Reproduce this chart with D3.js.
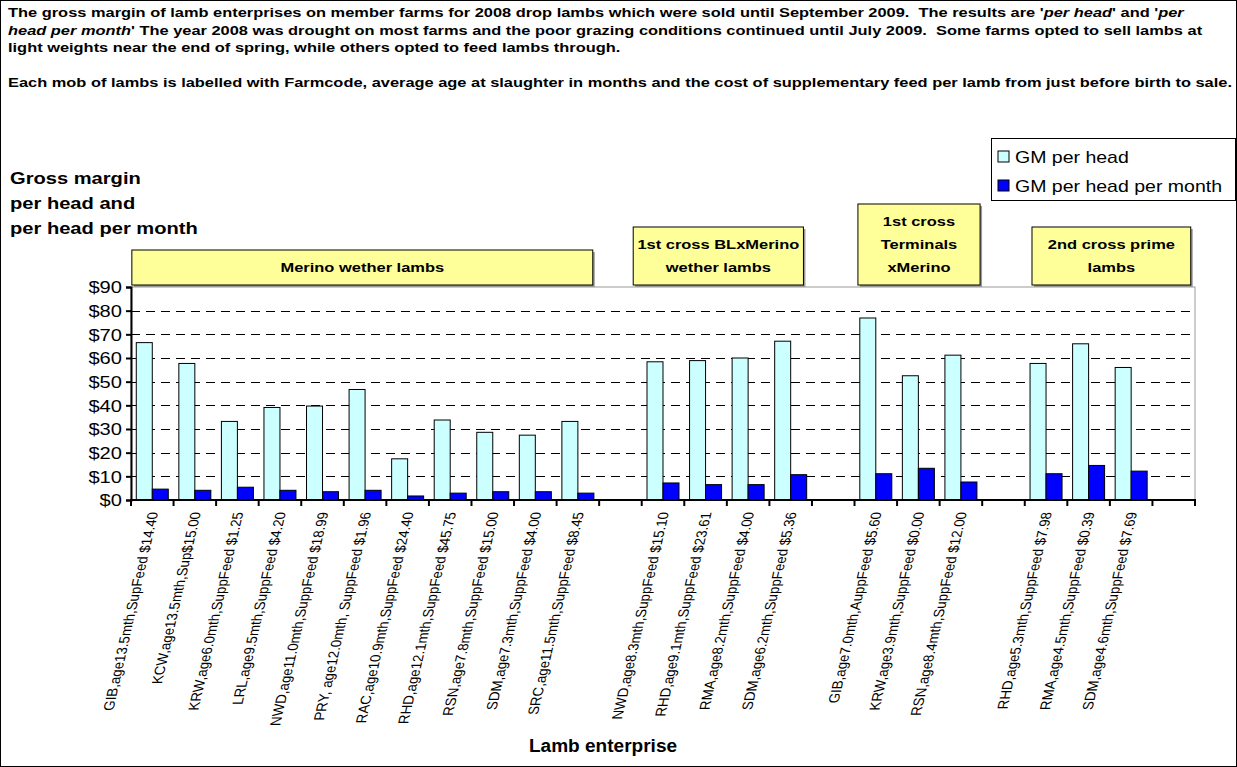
<!DOCTYPE html>
<html>
<head>
<meta charset="utf-8">
<script src="https://cdn.jsdelivr.net/npm/d3@7"></script>
<style>
  body { margin: 0; background: #fff; }
  svg { display: block; font-family: "Liberation Sans", Arial, sans-serif; }
</style>
</head>
<body>
<svg id="chart" width="1237" height="767"></svg>
<script>
// Lamb enterprises (blank entries separate the breed groups)
const categories = [
  "GIB,age13.5mth,SupFeed $14.40",
  "KCW,age13.5mth,Sup$15.00",
  "KRW,age6.0mth,SuppFeed $1.25",
  "LRL,age9.5mth,SuppFeed $4.20",
  "NWD,age11.0mth,SuppFeed $18.99",
  "PRY, age12.0mth, SuppFeed $1.96",
  "RAC,age10.9mth,SuppFeed $24.40",
  "RHD,age12.1mth,SuppFeed $45.75",
  "RSN,age7.8mth,SuppFeed $15.00",
  "SDM,age7.3mth,SuppFeed $4.00",
  "SRC,age11.5mth,SuppFeed $8.45",
  "",
  "NWD,age8.3mth,SuppFeed $15.10",
  "RHD,age9.1mth,SuppFeed $23.61",
  "RMA,age8.2mth,SuppFeed $4.00",
  "SDM,age6.2mth,SuppFeed $5.36",
  "",
  "GIB,age7.0mth,AuppFeed $5.60",
  "KRW,age3.9mth,SuppFeed $0.00",
  "RSN,age8.4mth,SuppFeed $12.00",
  "",
  "RHD,age5.3mth,SuppFeed $7.98",
  "RMA,age4.5mth,SuppFeed $0.39",
  "SDM,age4.6mth,SuppFeed $7.69",
  ""
];

// Gross margin per head ($)
const gmPerHead = [
  66.5, 57.7, 33.2, 39.1, 39.7, 46.7, 17.4, 33.8, 28.6, 27.4, 33.2,
  null,
  58.4, 58.9, 60.0, 67.1,
  null,
  76.9, 52.5, 61.2,
  null,
  57.7, 66.0, 56.0,
  null
];

// Gross margin per head per month ($)
const gmPerHeadMonth = [
  4.6, 4.1, 5.4, 4.1, 3.5, 4.1, 1.7, 2.9, 3.5, 3.5, 2.9,
  null,
  7.2, 6.5, 6.5, 10.7,
  null,
  11.1, 13.4, 7.6,
  null,
  11.1, 14.6, 12.2,
  null
];

const seriesNames = ["GM per head", "GM per head per month"];
const seriesColors = ["#CCFFFF", "#0000FF"];
const yTicks = [0, 10, 20, 30, 40, 50, 60, 70, 80, 90];

// Breed group call-outs: label lines and the span of category slots they cover
const groupLabels = [
  ["Merino wether lambs"],
  ["1st cross BLxMerino", "wether lambs"],
  ["1st cross", "Terminals", "xMerino"],
  ["2nd cross prime", "lambs"]
];
const groupSpans = [[0.02, 10.85], [11.8, 15.8], [17.08, 19.95], [21.17, 24.9]];

const titleLines = [
  [["The gross margin of lamb enterprises on member farms for 2008 drop lambs which were sold until September 2009.  The results are '", false], ["per head", true], ["' and '", false], ["per", true]],
  [["head per month", true], ["' The year 2008 was drought on most farms and the poor grazing conditions continued until July 2009.  Some farms opted to sell lambs at", false]],
  [["light weights near the end of spring, while others opted to feed lambs through.", false]],
  [],
  [["Each mob of lambs is labelled with Farmcode, average age at slaughter in months and the cost of supplementary feed per lamb from just before birth to sale.", false]]
];
const yTitleLines = ["Gross margin", "per head and", "per head per month"];
const xTitle = "Lamb enterprise";

const svg = d3.select("#chart");
const W = 1237, H = 767;
const plot = { left: 131, right: 1195, top: 287, bottom: 500 };
const KX = 1.22; // horizontal stretch of the lettering

// place a text element at (px,py) with the chart's wide lettering
const put = (sel, px, py, k = KX) => sel.attr("transform", `translate(${px},${py}) scale(${k},1)`);

// outer frame
svg.append("rect").attr("x", 0.5).attr("y", 0.5).attr("width", W - 1).attr("height", H - 1)
  .attr("fill", "#fff").attr("stroke", "#000").attr("stroke-width", 1);

// title block
const title = svg.append("g").attr("font-weight", "bold").attr("font-size", 13).attr("fill", "#000");
titleLines.forEach((line, i) => {
  const t = title.append("text").attr("xml:space", "preserve");
  put(t, 8, 17 + i * 17.5, 1.262);
  line.forEach(([s, it]) => t.append("tspan").attr("font-style", it ? "italic" : "normal").text(s));
});

// scales
const idx = categories.map((_, i) => i);
const x = d3.scaleBand().domain(idx).range([plot.left, plot.right]).paddingInner(0).paddingOuter(0);
const xs = d3.scaleBand().domain([0, 1]).range([0, x.bandwidth()]).paddingInner(0).paddingOuter(0.33);
const y = d3.scaleLinear().domain([0, 90]).range([plot.bottom, plot.top]);
const slot = i => plot.left + i * x.step();

// plot area
svg.append("rect").attr("x", plot.left).attr("y", plot.top)
  .attr("width", plot.right - plot.left).attr("height", plot.bottom - plot.top)
  .attr("fill", "#fff").attr("stroke", "#9a9a9a").attr("stroke-width", 1);

// dashed gridlines
svg.append("g").selectAll("line").data(yTicks.filter(d => d > 0 && d < 90)).join("line")
  .attr("x1", plot.left).attr("x2", plot.right)
  .attr("y1", d => Math.round(y(d)) + 0.5).attr("y2", d => Math.round(y(d)) + 0.5)
  .attr("stroke", "#000").attr("stroke-width", 1).attr("stroke-dasharray", "9,6");

// bars
const seriesData = [gmPerHead, gmPerHeadMonth];
seriesData.forEach((vals, s) => {
  svg.append("g").selectAll("rect")
    .data(vals.map((v, i) => ({ v, i })).filter(d => d.v != null))
    .join("rect")
    .attr("x", d => x(d.i) + xs(s))
    .attr("y", d => y(d.v))
    .attr("width", xs.bandwidth())
    .attr("height", d => y(0) - y(d.v))
    .attr("fill", seriesColors[s])
    .attr("stroke", "#000").attr("stroke-width", 1);
});

// y axis
const yAxis = svg.append("g").attr("transform", `translate(${plot.left},0)`)
  .call(d3.axisLeft(y).tickValues(yTicks).tickFormat(d => "$" + d).tickSize(5).tickPadding(4));
yAxis.select(".domain").attr("stroke", "#000").attr("stroke-width", 2);
yAxis.selectAll(".tick line").attr("stroke", "#000").attr("stroke-width", 2);
yAxis.selectAll(".tick text").attr("x", null).attr("dy", "0.36em")
  .attr("font-size", 16.5).attr("font-family", "Liberation Sans, Arial, sans-serif").attr("fill", "#000")
  .attr("transform", `translate(-9,0) scale(${KX},1)`);

// x axis with boundary ticks
const xAxis = svg.append("g");
xAxis.append("line").attr("x1", plot.left - 1).attr("x2", plot.right + 1)
  .attr("y1", plot.bottom).attr("y2", plot.bottom).attr("stroke", "#000").attr("stroke-width", 2);
xAxis.selectAll("line.tk").data(d3.range(categories.length + 1)).join("line").attr("class", "tk")
  .attr("x1", d => slot(d)).attr("x2", d => slot(d))
  .attr("y1", plot.bottom).attr("y2", plot.bottom + 6)
  .attr("stroke", "#000").attr("stroke-width", 2);

// category labels: read bottom to top, slanted
svg.append("clipPath").attr("id", "lblclip").append("rect")
  .attr("x", 0).attr("y", plot.bottom + 9).attr("width", W).attr("height", H);
const labels = svg.append("g").attr("clip-path", "url(#lblclip)")
  .attr("font-size", 13.3).attr("fill", "#000");
const maxLen = 216;
const slant = -12.8;
categories.forEach((c, i) => {
  if (!c) return;
  const cx = x(i) + x.bandwidth() / 2 + 6, cy = plot.bottom + 12;
  const t = labels.append("text").attr("text-anchor", "end").attr("xml:space", "preserve")
    .attr("transform", `translate(${cx},${cy}) skewX(${slant}) rotate(-90) scale(1,1.1)`).text(c);
  const len = t.node().getComputedTextLength();
  if (len > maxLen) {
    t.attr("text-anchor", "start").attr("transform",
      `translate(${cx},${cy}) skewX(${slant}) rotate(-90) scale(1,1.1) translate(${-maxLen},0)`);
  }
});

// x title
put(svg.append("text").attr("text-anchor", "middle")
  .attr("font-size", 18.5).attr("font-weight", "bold").text(xTitle), 603, 752, 1.03);

// y title
yTitleLines.forEach((d, i) => {
  put(svg.append("text").attr("font-size", 16.5).attr("font-weight", "bold").text(d), 10, 184 + i * 25);
});

// breed group call-outs
groupLabels.forEach((lines, g) => {
  const x0 = slot(groupSpans[g][0]), x1 = slot(groupSpans[g][1]);
  const h = 12 + lines.length * 23;
  const y1 = plot.top - 2, y0 = y1 - h;
  const gg = svg.append("g");
  gg.append("rect").attr("x", x0 + 2).attr("y", y0 + 2).attr("width", x1 - x0).attr("height", h).attr("fill", "#9a9a9a");
  gg.append("rect").attr("x", x0).attr("y", y0).attr("width", x1 - x0).attr("height", h)
    .attr("fill", "#FFFF99").attr("stroke", "#000").attr("stroke-width", 1);
  lines.forEach((l, k) => {
    put(gg.append("text").attr("text-anchor", "middle").attr("font-size", 13.5)
      .attr("font-weight", "bold").text(l), (x0 + x1) / 2, y0 + 22 + k * 23);
  });
});

// legend
const lg = svg.append("g").attr("transform", "translate(991,138)");
lg.append("rect").attr("x", 0.5).attr("y", 0.5).attr("width", 244).attr("height", 62)
  .attr("fill", "#fff").attr("stroke", "#000").attr("stroke-width", 1);
seriesNames.forEach((n, i) => {
  lg.append("rect").attr("x", 7).attr("y", 13 + i * 29).attr("width", 11).attr("height", 11)
    .attr("fill", seriesColors[i]).attr("stroke", "#000").attr("stroke-width", 1);
  put(lg.append("text").attr("font-size", 16).text(n), 24, 25 + i * 29);
});
</script>
</body>
</html>
